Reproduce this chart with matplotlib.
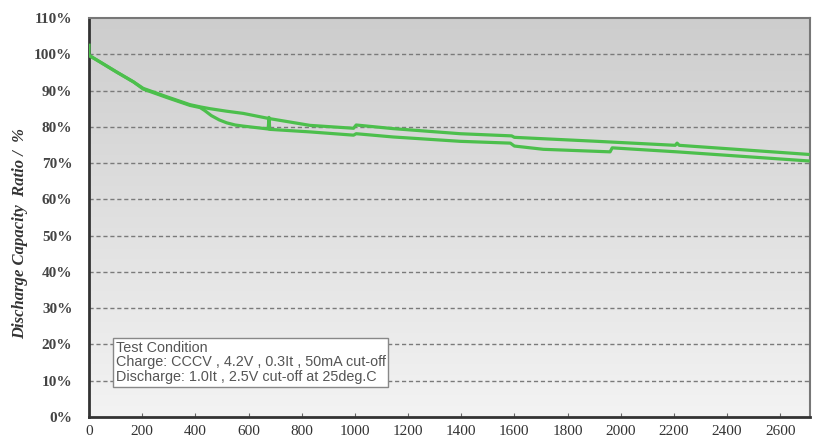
import matplotlib
matplotlib.use("Agg")
import matplotlib.pyplot as plt
import numpy as np

# cycle count vs capacity ratio, two cells
upper_x = [0, 0, 41, 104, 167, 204, 292, 380, 418, 455, 518, 580, 676, 831, 995, 1005, 1144,
           1396, 1590, 1600, 1911, 2205, 2212, 2220, 2705]
upper_y = [102.5, 99.7, 97.9, 95.1, 92.4, 90.6, 88.3, 86.1, 85.5, 85.0, 84.3, 83.7, 82.3, 80.4, 79.6, 80.5, 79.5,
           78.1, 77.5, 77.1, 76.0, 74.9, 75.5, 74.9, 72.4]

lower_x = [0, 41, 104, 167, 204, 292, 380, 418, 435, 460, 490, 518, 550, 580, 674, 677, 680, 831, 995, 1005,
           1144, 1396, 1585, 1600, 1709, 1960, 1968, 2212, 2705]
lower_y = [99.7, 97.9, 95.1, 92.4, 90.4, 88.1, 85.9, 85.3, 84.5, 83.1, 81.9, 81.1, 80.5, 80.2, 79.4, 82.6, 79.3, 78.6, 77.7, 78.1,
           77.2, 76.0, 75.5, 74.7, 73.8, 73.1, 74.2, 73.1, 70.6]

x_ticks = list(range(0, 2601, 200))
y_ticks = list(range(0, 111, 10))
y_tick_labels = ["{}%".format(v) for v in y_ticks]

note = ("Test Condition\n"
        "Charge: CCCV , 4.2V , 0.3It , 50mA cut-off\n"
        "Discharge: 1.0It , 2.5V cut-off at 25deg.C")

fig = plt.figure(figsize=(8.15, 4.41), dpi=100)
ax = fig.add_axes([89 / 815, 24 / 441, 721 / 815, 399 / 441])

# gray-to-white gradient background
grad = np.linspace(0, 1, 256).reshape(-1, 1)
ax.imshow(grad, extent=[0, 1, 0, 1], transform=ax.transAxes, aspect="auto",
          cmap=matplotlib.colors.LinearSegmentedColormap.from_list("bg", ["#cdcdcd", "#f3f3f3"]),
          origin="upper", zorder=0)

green = "#4cbf4c"
ax.plot(upper_x, upper_y, color=green, lw=2.3, zorder=3, solid_joinstyle="round")
ax.plot(lower_x, lower_y, color=green, lw=2.3, zorder=3, solid_joinstyle="round")

ax.set_xlim(0, 2712)
ax.set_ylim(0, 110)

for v in y_ticks[1:-1]:
    ax.axhline(v, color="#7a7a7a", lw=1.0, ls=(0, (3, 2)), zorder=1)

ax.set_xticks(x_ticks)
ax.set_xticklabels([str(v) for v in x_ticks], family="Liberation Serif", fontsize=11, color="#333333")
ax.set_yticks(y_ticks)
ax.set_yticklabels(y_tick_labels, family="Liberation Serif", fontsize=11, fontweight="bold", color="#444444")
ax.tick_params(axis="x", direction="in", length=3, color="#666666", pad=6)
ax.tick_params(axis="y", length=0, pad=12)

ax.spines["left"].set_color("#333333")
ax.spines["left"].set_linewidth(2)
ax.spines["bottom"].set_color("#333333")
ax.spines["bottom"].set_linewidth(2)
ax.spines["top"].set_color("#777777")
ax.spines["top"].set_linewidth(1.5)
ax.spines["right"].set_color("#777777")
ax.spines["right"].set_linewidth(1.5)

fig.text(20 / 815, 0.47, "Discharge Capacity  Ratio /  %", rotation=90, ha="center", va="center",
         family="Liberation Serif", style="italic", fontweight="bold", fontsize=12, color="#333333")

ax.text(100, 21.0, note, family="Liberation Sans", fontsize=10.4, color="#555555",
        va="top", ha="left", linespacing=1.05, zorder=4,
        bbox=dict(boxstyle="square,pad=0.2", fc="white", ec="#888888", lw=1))

fig.savefig("out.png", dpi=100)
